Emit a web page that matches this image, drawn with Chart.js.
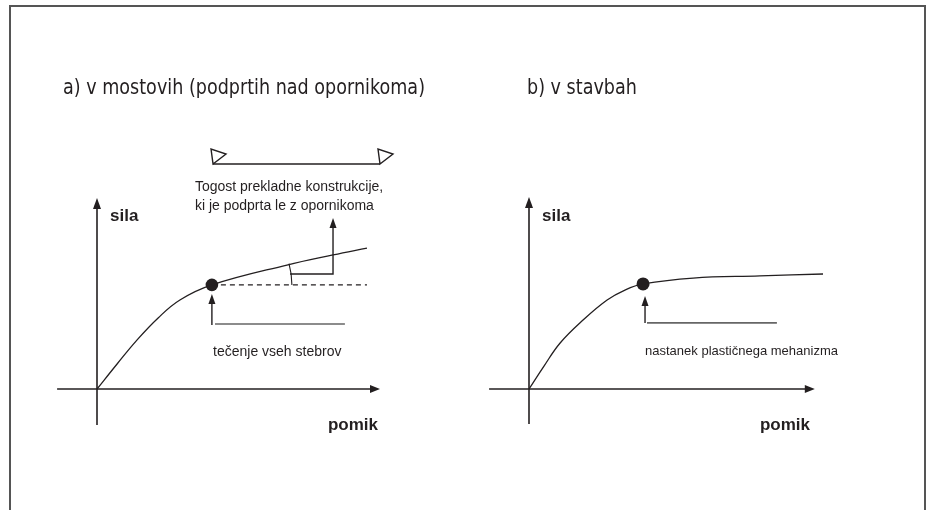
<!DOCTYPE html>
<html><head><meta charset="utf-8">
<script src="https://cdn.jsdelivr.net/npm/chart.js@4/dist/chart.umd.min.js"></script>
<style>html,body{margin:0;padding:0;background:#fff;}#wrap{position:relative;width:931px;height:510px;}</style>
</head><body><div id="wrap"><canvas id="c"></canvas></div>
<script>
// ---- data (arbitrary units: pomik = displacement, sila = force) ----
// a) bridges (supported on abutments)
const pomikA = [0, 0.71, 1.38, 2.16, 2.93, 4.06, 6.71, 8.34, 9.54];
const silaA  = [0, 1.31, 2.51, 3.72, 4.66, 5.45, 6.49, 7.02, 7.38];
const yieldA = [4.06, 5.45];      // yielding of all columns
const dashEndA = 9.54;            // horizontal reference after yield
// b) buildings
const pomikB = [0, 0.53, 1.10, 1.91, 2.76, 3.39, 4.03, 5.80, 8.16, 10.39];
const silaB  = [0, 1.20, 2.41, 3.61, 4.66, 5.18, 5.50, 5.81, 5.92, 6.02];
const yieldB = [4.03, 5.50];      // plastic mechanism forms
// texts
const titles = ['a) v mostovih (podprtih nad opornikoma)', 'b) v stavbah'];
const axisNames = ['sila', 'pomik'];
const notesA = ['Togost prekladne konstrukcije,', 'ki je podprta le z opornikoma', 'tečenje vseh stebrov'];
const notesB = ['nastanek plastičnega mehanizma'];

// ---- layout ----
const W = 931, H = 510;
const UX = 28.3, UY = 19.1;               // px per unit
const origin = {a:[97,389], b:[529,389]};
const INK = '#231f20';

function xr(o){ return {min: -o[0]/UX, max: (W-o[0])/UX}; }
function yr(o){ return {min: -(H-o[1])/UY, max: o[1]/UY}; }
const pts = (xs, ys) => xs.map((v,i)=>({x:v, y:ys[i]}));

function P(chart, p, x, y){
  return [chart.scales['x'+p].getPixelForValue(x), chart.scales['y'+p].getPixelForValue(y)];
}
function line(ctx, a, b){ ctx.beginPath(); ctx.moveTo(a[0],a[1]); ctx.lineTo(b[0],b[1]); ctx.stroke(); }
function headUp(ctx, t, len, half){ ctx.beginPath(); ctx.moveTo(t[0],t[1]); ctx.lineTo(t[0]-half,t[1]+len); ctx.lineTo(t[0]+half,t[1]+len); ctx.closePath(); ctx.fill(); }
function headRight(ctx, t, len, half){ ctx.beginPath(); ctx.moveTo(t[0],t[1]); ctx.lineTo(t[0]-len,t[1]-half); ctx.lineTo(t[0]-len,t[1]+half); ctx.closePath(); ctx.fill(); }
function arrowUp(ctx, from, tip, len, half){ line(ctx, from, [tip[0], tip[1]+len-1]); headUp(ctx, tip, len, half); }

const axisExt = {a:{x:[-1.41,10.0], y:[-1.88,10.0]}, b:{x:[-1.41,10.1], y:[-1.83,10.05]}};

const deco = {
  id:'deco',
  beforeDatasetsDraw(chart){
    const ctx = chart.ctx; ctx.save();
    ctx.strokeStyle = INK; ctx.fillStyle = INK; ctx.lineWidth = 1.6;
    ['a','b'].forEach(p=>{
      const e = axisExt[p];
      const x0 = P(chart,p,e.x[0],0), x1 = P(chart,p,e.x[1],0);
      line(ctx, x0, [x1[0]-6, x1[1]]); headRight(ctx, x1, 10, 4);
      const y0 = P(chart,p,0,e.y[0]), y1 = P(chart,p,0,e.y[1]);
      line(ctx, y0, [y1[0], y1[1]+6]); headUp(ctx, y1, 11, 4);
    });
    ctx.restore();
  },
  afterDatasetsDraw(chart){
    const ctx = chart.ctx; ctx.save();
    // frame
    ctx.strokeStyle = '#555'; ctx.lineWidth = 2;
    ctx.beginPath(); ctx.moveTo(10,H); ctx.lineTo(10,6); ctx.lineTo(925,6); ctx.lineTo(925,H); ctx.stroke();
    // titles (condensed light sans)
    ctx.fillStyle = INK; ctx.textBaseline = 'middle'; ctx.textAlign = 'left';
    ctx.font = '22px "DejaVu Sans", sans-serif';
    const sx = 362 / ctx.measureText(titles[0]).width;
    [[titles[0],63],[titles[1],527]].forEach(([t,x])=>{
      ctx.save(); ctx.translate(x, 88); ctx.scale(sx, 1); ctx.fillText(t, 0, 0); ctx.restore();
    });
    // axis names
    ctx.font = 'bold 17px "Liberation Sans", Arial, sans-serif';
    ['a','b'].forEach(p=>{
      let q = P(chart,p,0.46,9.06); ctx.fillText(axisNames[0], q[0], q[1]);
      q = P(chart,p,8.16,-1.88); ctx.fillText(axisNames[1], q[0], q[1]);
    });
    ctx.font = '14px "Liberation Sans", Arial, sans-serif';
    let q = P(chart,'a',3.46,10.58); ctx.fillText(notesA[0], q[0], q[1]);
    q = P(chart,'a',3.46,9.58); ctx.fillText(notesA[1], q[0], q[1]);
    q = P(chart,'a',4.10,1.94); ctx.fillText(notesA[2], q[0], q[1]);
    ctx.font = '13px "Liberation Sans", Arial, sans-serif';
    q = P(chart,'b',4.10,1.99); ctx.fillText(notesB[0], q[0], q[1]);

    ctx.strokeStyle = INK; ctx.fillStyle = INK; ctx.lineWidth = 1.4;
    // beam with supports
    const bl = P(chart,'a',4.10,11.78), br = P(chart,'a',10.0,11.78);
    line(ctx, bl, br);
    [bl, br].forEach(a=>{
      ctx.beginPath(); ctx.moveTo(a[0],a[1]); ctx.lineTo(a[0]-2,a[1]-15); ctx.lineTo(a[0]+13,a[1]-10); ctx.closePath(); ctx.stroke();
    });
    // stiffness bracket
    const s0 = P(chart,'a',6.82,6.02), s1 = P(chart,'a',8.34,6.02), s2 = P(chart,'a',8.34,8.95);
    ctx.beginPath(); ctx.moveTo(s0[0],s0[1]); ctx.lineTo(s1[0],s1[1]); ctx.lineTo(s2[0],s2[1]+9); ctx.stroke();
    headUp(ctx, s2, 10, 3.5);
    // angle arc
    const d = P(chart,'a',yieldA[0],yieldA[1]);
    ctx.lineWidth = 1.1;
    ctx.beginPath(); ctx.arc(d[0], d[1], 80, -0.27, 0); ctx.stroke();
    ctx.lineWidth = 1.4;
    // arrows below yield points
    arrowUp(ctx, P(chart,'a',4.06,3.35), P(chart,'a',4.06,4.97), 10, 3.5);
    arrowUp(ctx, P(chart,'b',4.10,3.46), P(chart,'b',4.10,4.87), 10, 3.5);
    ctx.strokeStyle = '#666'; ctx.lineWidth = 1.6;
    line(ctx, P(chart,'a',4.17,3.40), P(chart,'a',8.76,3.40));
    line(ctx, P(chart,'b',4.17,3.46), P(chart,'b',8.76,3.46));
    ctx.restore();
  }
};

new Chart(document.getElementById('c'), {
  type: 'line',
  data: { datasets: [
    {data: pts(pomikA, silaA), xAxisID:'xa', yAxisID:'ya', borderColor:INK, borderWidth:1.3, pointRadius:0, tension:0.4, fill:false},
    {data: [{x:yieldA[0], y:yieldA[1]}, {x:dashEndA, y:yieldA[1]}], xAxisID:'xa', yAxisID:'ya', borderColor:INK, borderWidth:1.2, borderDash:[5,4], pointRadius:0, fill:false},
    {data: [{x:yieldA[0], y:yieldA[1]}], xAxisID:'xa', yAxisID:'ya', showLine:false, pointRadius:6.3, backgroundColor:INK, borderColor:INK, borderWidth:0},
    {data: pts(pomikB, silaB), xAxisID:'xb', yAxisID:'yb', borderColor:INK, borderWidth:1.3, pointRadius:0, tension:0.4, fill:false},
    {data: [{x:yieldB[0], y:yieldB[1]}], xAxisID:'xb', yAxisID:'yb', showLine:false, pointRadius:6.5, backgroundColor:INK, borderColor:INK, borderWidth:0}
  ]},
  options: {
    responsive: true, maintainAspectRatio: false, animation: false,
    layout: {padding: 0, autoPadding: false},
    plugins: {legend:{display:false}, tooltip:{enabled:false}, title:{display:false}},
    events: [],
    scales: {
      xa: Object.assign({type:'linear', axis:'x', display:false}, xr(origin.a)),
      ya: Object.assign({type:'linear', axis:'y', display:false}, yr(origin.a)),
      xb: Object.assign({type:'linear', axis:'x', display:false}, xr(origin.b)),
      yb: Object.assign({type:'linear', axis:'y', display:false}, yr(origin.b))
    }
  },
  plugins: [deco]
});
</script></body></html>
